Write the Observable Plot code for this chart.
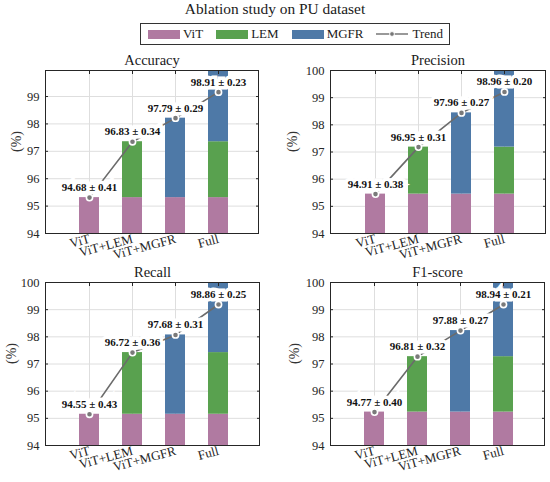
<!DOCTYPE html>
<html>
<head>
<meta charset="utf-8">
<script src="https://cdn.jsdelivr.net/npm/d3@7"></script>
<script src="https://cdn.jsdelivr.net/npm/@observablehq/plot@0.6"></script>
<style>
  body { margin: 0; background: #fff; }
  #root { position: relative; width: 550px; height: 482px; overflow: hidden; font-family: "Liberation Serif", "Times New Roman", serif; color: #262626; }
  #title { position: absolute; left: 0; top: 0; width: 550px; text-align: center; font-size: 15.4px; line-height: 17px; color: #1a1a1a; }
  #legend { position: absolute; left: 140px; top: 23px; width: 308px; height: 20px; border: 1px solid #333; display: flex; align-items: center; font-size: 13px; color: #1a1a1a; box-sizing: content-box; }
  .sw { display: inline-block; width: 32px; height: 9px; margin-left: 7px; margin-right: 3px; }
  .panel { position: absolute; }
  svg.panel, svg.panel text { font-family: "Liberation Serif", "Times New Roman", serif !important; }
</style>
</head>
<body>
<div id="root">
  <div id="title"></div>
  <div id="legend"></div>
</div>
<script>
// ---- data ----
const chartTitle = "Ablation study on PU dataset";
const metrics = ["Accuracy", "Precision", "Recall", "F1-score"];
const variants = ["ViT", "ViT+LEM", "ViT+MGFR", "Full"];
const components = ["ViT", "LEM", "MGFR"];
const componentColors = ["#b07aa1", "#59a14f", "#4e79a7"];
const variantParts = [["ViT"], ["ViT", "LEM"], ["ViT", "MGFR"], ["ViT", "LEM", "MGFR"]];
// bar segment heights (per metric)
const vitBar   = [95.31, 95.45, 95.15, 95.23];
const lemGain  = [2.04, 1.73, 2.27, 2.04];
const mgfrGain = [2.90, 2.99, 2.92, 3.00];
const fullTrendPoint = [99.16, 99.21, 99.19, 99.19];
// annotated mean ± std
const meanValues = [
  [94.68, 96.83, 97.79, 98.91],
  [94.91, 96.95, 97.96, 98.96],
  [94.55, 96.72, 97.68, 98.86],
  [94.77, 96.81, 97.88, 98.94]
];
const stdValues = [
  [0.41, 0.34, 0.29, 0.23],
  [0.38, 0.31, 0.27, 0.20],
  [0.43, 0.36, 0.31, 0.25],
  [0.40, 0.32, 0.27, 0.21]
];
const yMax = [99.95, 100, 100, 100];
const yTicks = [
  [94, 95, 96, 97, 98, 99],
  [94, 95, 96, 97, 98, 99, 100],
  [94, 95, 96, 97, 98, 99, 100],
  [94, 95, 96, 97, 98, 99, 100]
];
const yLabel = "(%)";
const trendLabel = "Trend";

const FONT = "'Liberation Serif', 'Times New Roman', serif";

// ---- layout (panel boxes) ----
const panelBox = [
  {left: 0,   top: 40,  mL: 45, mR: 17, ylabDx: -29},
  {left: 275, top: 40,  mL: 55, mR: 5,  ylabDx: -38},
  {left: 0,   top: 252, mL: 45, mR: 16, ylabDx: -34},
  {left: 275, top: 252, mL: 55, mR: 6,  ylabDx: -36}
];

document.getElementById("title").textContent = chartTitle;

// legend
const legend = d3.select("#legend");
components.forEach((c, i) => {
  legend.append("span").attr("class", "sw").style("background", componentColors[i]);
  legend.append("span").text(c).style("margin-right", "6px");
});
const tr = legend.append("svg").attr("width", 34).attr("height", 10).style("margin-left", "6px").style("margin-right", "3px");
tr.append("line").attr("x1", 1).attr("x2", 33).attr("y1", 5).attr("y2", 5).attr("stroke", "#555").attr("stroke-width", 1.2);
tr.append("circle").attr("cx", 17).attr("cy", 5).attr("r", 2.4).attr("fill", "#777").attr("stroke", "white").attr("stroke-width", 1);
legend.append("span").text(trendLabel);

const gains = {ViT: vitBar, LEM: lemGain, MGFR: mgfrGain};

metrics.forEach((metric, i) => {
  const rows = [];
  variants.forEach((v, j) => {
    variantParts[j].forEach(c => rows.push({variant: v, component: c, value: gains[c][i]}));
  });
  const trendVals = [
    vitBar[i],
    vitBar[i] + lemGain[i],
    vitBar[i] + mgfrGain[i],
    fullTrendPoint[i]
  ];
  const trend = variants.map((v, j) => ({
    variant: v,
    value: trendVals[j],
    label: `${meanValues[i][j].toFixed(2)} ± ${stdValues[i][j].toFixed(2)}`
  }));
  const b = panelBox[i];
  const plot = Plot.plot({
    width: 275,
    height: 238,
    marginLeft: b.mL,
    marginRight: b.mR,
    marginTop: 30,
    marginBottom: 45,
    style: `background: transparent; font-family: ${FONT}; font-size: 12.5px; color: #262626; overflow: visible;`,
    x: {type: "band", domain: variants, paddingInner: 0.535, paddingOuter: 0.744, align: 0.53, label: null},
    y: {domain: [94, yMax[i]], clamp: true, label: null},
    color: {domain: components, range: componentColors},
    marks: [
      Plot.gridX({stroke: "#dedede", strokeOpacity: 1}),
      Plot.gridY(yTicks[i], {stroke: "#dedede", strokeOpacity: 1}),
      Plot.barY(rows, {x: "variant", y: "value", fill: "component"}),
      Plot.line(trend, {x: "variant", y: "value", stroke: "#6b6b6b", strokeWidth: 1.6}),
      Plot.text(trend, {x: "variant", y: "value", text: "label", dy: -10, fontWeight: "bold", fontSize: 11, fontFamily: FONT, fill: "#111", stroke: "white", strokeWidth: 7, strokeLinejoin: "miter"}),
      Plot.dot(trend, {x: "variant", y: "value", r: 3.1, fill: "#7a7a7a", stroke: "white", strokeWidth: 1.6}),
      Plot.frame({stroke: "#262626", strokeWidth: 1}),
      Plot.axisY(yTicks[i], {tickSize: 0, tickPadding: 6, fontSize: 12.5, fontFamily: FONT, fill: "#262626", label: null}),
      Plot.axisY(yTicks[i], {tickSize: -3, text: null, label: null, stroke: "#262626"}),
      Plot.axisY(yTicks[i], {anchor: "right", tickSize: -3, text: null, label: null, stroke: "#262626"}),
      Plot.axisX({tickSize: 0, tickPadding: 5, tickRotate: -15, fontSize: 13, fontFamily: FONT, fill: "#262626", label: null}),
      Plot.axisX({anchor: "top", tickSize: -3, text: null, label: null, stroke: "#262626"}),
      Plot.text([metric], {frameAnchor: "top", dy: -10, lineAnchor: "middle", fontSize: 14.5, fontFamily: FONT, fill: "#1a1a1a"}),
      Plot.text([yLabel], {frameAnchor: "left", dx: b.ylabDx, rotate: -90, lineAnchor: "middle", fontSize: 14, fontFamily: FONT, fill: "#333"})
    ]
  });
  plot.classList.add("panel");
  plot.style.position = "absolute";
  plot.style.left = b.left + "px";
  plot.style.top = b.top + "px";
  document.getElementById("root").appendChild(plot);
});
</script>
</body>
</html>
